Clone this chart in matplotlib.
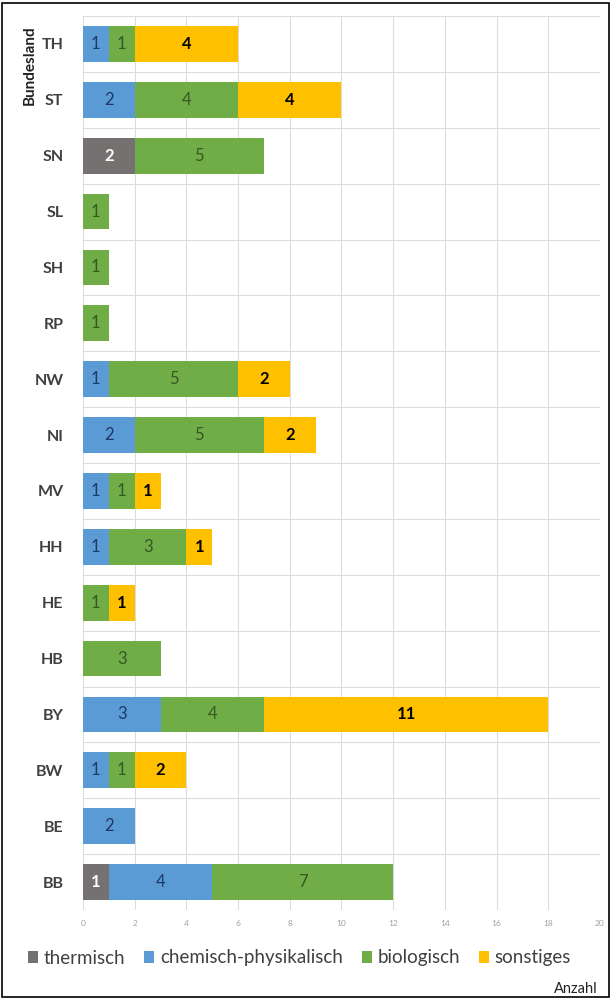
import matplotlib
matplotlib.use("Agg")
import matplotlib.pyplot as plt
from matplotlib.patches import Rectangle, Patch
import numpy as np

plt.rcParams['font.family'] = ['Lato', 'DejaVu Sans']

states = ["TH", "ST", "SN", "SL", "SH", "RP", "NW", "NI", "MV", "HH", "HE", "HB", "BY", "BW", "BE", "BB"]
thermisch = [0, 0, 2, 0, 0, 0, 0, 0, 0, 0, 0, 0, 0, 0, 0, 1]
chemisch = [1, 2, 0, 0, 0, 0, 1, 2, 1, 1, 0, 0, 3, 1, 2, 4]
biologisch = [1, 4, 5, 1, 1, 1, 5, 5, 1, 3, 1, 3, 4, 1, 0, 7]
sonstiges = [4, 4, 0, 0, 0, 0, 2, 2, 1, 1, 1, 0, 11, 2, 0, 0]
series_names = ["thermisch", "chemisch-physikalisch", "biologisch", "sonstiges"]
xticks = list(range(0, 21, 2))

colors = ["#767171", "#5B9BD5", "#70AD47", "#FFC000"]
label_colors = ["white", "#1F3864", "#375623", "black"]
label_weights = ["bold", "normal", "normal", "bold"]

fig = plt.figure(figsize=(6.11, 10), dpi=100)
ax = fig.add_axes([0.1358, 0.09, 0.982 - 0.1358, 0.984 - 0.09])

y = np.arange(len(states))
left = np.zeros(len(states))
data = [thermisch, chemisch, biologisch, sonstiges]
for vals, c, lc, lw, name in zip(data, colors, label_colors, label_weights, series_names):
    vals = np.array(vals, dtype=float)
    bars = ax.barh(y, vals, left=left, height=0.64, color=c, label=name, zorder=3)
    for b, v in zip(bars, vals):
        if v > 0:
            ax.text(b.get_x() + b.get_width() / 2, b.get_y() + b.get_height() / 2,
                    f"{int(v)}", ha="center", va="center", color=lc,
                    fontsize=12, fontweight=lw, zorder=4)
    left += vals

ax.set_xlim(0, 20)
ax.set_ylim(len(states) - 0.5, -0.5)
ax.set_xticks(xticks)
ax.set_xticklabels([str(t) for t in xticks], fontsize=6, color="#a0a0a0")
ax.set_yticks(y)
ax.set_yticklabels(states, fontsize=11.5, fontweight="bold", color="#404040")
ax.set_yticks(np.arange(len(states) + 1) - 0.5, minor=True)
ax.tick_params(axis="both", which="both", length=0)
ax.tick_params(axis="y", pad=14)
ax.tick_params(axis="x", pad=7)
ax.grid(axis="x", color="#dcdcdc", linewidth=0.8, zorder=0)
ax.grid(axis="y", which="minor", color="#dcdcdc", linewidth=0.8, zorder=0)
ax.grid(axis="y", which="major", visible=False)
for s in ax.spines.values():
    s.set_visible(False)

fig.text(0.049, 0.935, "Bundesland", rotation=90, ha="center", va="center",
         fontsize=11, fontweight="bold", color="#222222")
fig.text(0.978, 0.011, "Anzahl", ha="right", va="center", fontsize=10.5, color="#222222")

handles = [Patch(facecolor=c, edgecolor="none") for c in colors]
fig.legend(handles, series_names, loc="center", bbox_to_anchor=(0.49, 0.042), ncol=4,
           frameon=False, fontsize=13.5, handlelength=0.55, handleheight=0.55,
           handletextpad=0.3, columnspacing=1.0, labelcolor="#404040")

fig.patches.append(Rectangle((0.004, 0.003), 0.992, 0.994, transform=fig.transFigure,
                             fill=False, edgecolor="black", linewidth=1.2))

fig.savefig("out.png", dpi=100)
